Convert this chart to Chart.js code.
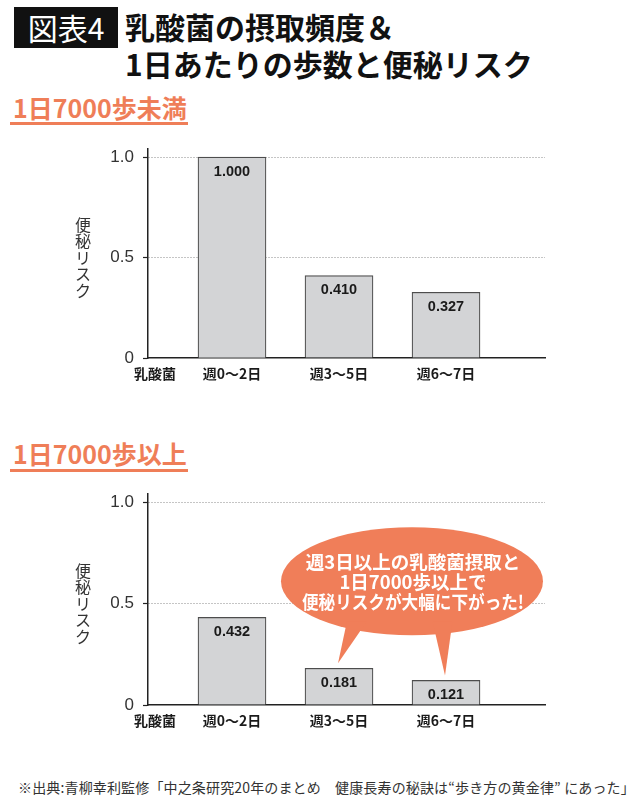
<!DOCTYPE html>
<html><head><meta charset="utf-8">
<script src="https://cdn.jsdelivr.net/npm/chart.js@4.4.0/dist/chart.umd.min.js"></script>
<style>
html,body{margin:0;padding:0;background:#fff;}
body{width:640px;height:798px;position:relative;overflow:hidden;font-family:"Noto Sans CJK JP",sans-serif;color:#1a1a1a;}
.abs{position:absolute;}
#badge{left:14px;top:7px;width:104px;height:41px;background:#111;color:#fff;font-size:30px;line-height:41px;text-align:center;}
#title{left:125px;top:8px;font-size:30px;line-height:37px;font-weight:700;white-space:nowrap;color:#111;}
.sub{left:13px;font-size:25px;line-height:30px;font-weight:700;color:#EF7E58;white-space:nowrap;}
.uline{left:10px;width:178px;height:3px;background:#EF7E58;}
#foot{left:18px;top:778px;font-size:14px;line-height:18px;color:#333;white-space:nowrap;letter-spacing:0.15px;}
canvas{position:absolute;left:0;}
</style></head>
<body>
<div id="badge" class="abs">図表4</div>
<div id="title" class="abs">乳酸菌の摂取頻度＆<br>1日あたりの歩数と便秘リスク</div>
<div class="abs sub" style="top:92px;">1日7000歩未満</div>
<div class="abs uline" style="top:122px;"></div>
<div class="abs sub" style="top:438px;">1日7000歩以上</div>
<div class="abs uline" style="top:469px;"></div>
<canvas id="c1" width="640" height="251" style="top:139px;"></canvas>
<canvas id="c2" width="640" height="253" style="top:484px;"></canvas>
<div id="foot" class="abs">※出典:青柳幸利監修「中之条研究20年のまとめ　健康長寿の秘訣は“歩き方の黄金律” にあった」</div>
<script>
// ---- data ----
const categories = ['週0〜2日', '週3〜5日', '週6〜7日'];
const lactoLabel = '乳酸菌';
const riskUnder7000 = [1.000, 0.410, 0.327];
const riskOver7000 = [0.432, 0.181, 0.121];
const yTickValues = [0, 0.5, 1.0];
const yTickLabels = ['0', '0.5', '1.0'];
const yTitle = '便秘リスク';
const bubbleLines = ['週3日以上の乳酸菌摂取と', '1日7000歩以上で', '便秘リスクが大幅に下がった!'];
const bubbleTargets = [1, 2];

// ---- layout ----
const X_MIN = 0.215, X_MAX = 3.925, LACTO_POS = 0.28, Y_MAX = 1.04;
const BUBBLE_AT = {x: 2.682, y: 0.61};
const TAIL_BASE_DX = [-55, 30.5];
const ORANGE = '#F07E59';

const valueLabels = {
  id: 'valueLabels',
  afterDatasetsDraw(chart) {
    const ctx = chart.ctx, meta = chart.getDatasetMeta(0);
    const vals = chart.data.datasets[0].data;
    ctx.save();
    ctx.font = 'bold 14.5px "Liberation Sans", Arial, sans-serif';
    ctx.fillStyle = '#1a1a1a';
    ctx.textAlign = 'center';
    ctx.textBaseline = 'middle';
    meta.data.forEach((bar, i) => ctx.fillText(vals[i].y.toFixed(3), bar.x, bar.y + 14.5));
    ctx.restore();
  }
};

const yTitlePlugin = {
  id: 'yTitleVertical',
  afterDraw(chart) {
    const {ctx, chartArea, scales: {y}} = chart;
    const chars = Array.from(yTitle);
    const step = 16.5;
    const cy = y.getPixelForValue((yTickValues[0] + yTickValues[yTickValues.length - 1]) / 2);
    const x = chartArea.left - 65;
    ctx.save();
    ctx.font = '16px "Noto Sans CJK JP", sans-serif';
    ctx.fillStyle = '#333';
    ctx.textAlign = 'center';
    ctx.textBaseline = 'middle';
    chars.forEach((ch, i) => ctx.fillText(ch, x, cy + (i - (chars.length - 1) / 2) * step));
    ctx.restore();
  }
};

const bubblePlugin = {
  id: 'bubble',
  afterDatasetsDraw(chart) {
    const {ctx, scales: {x, y}} = chart;
    const meta = chart.getDatasetMeta(0);
    const cx = x.getPixelForValue(BUBBLE_AT.x), cy = y.getPixelForValue(BUBBLE_AT.y);
    const rx = 131, ry = 54;
    ctx.save();
    ctx.fillStyle = ORANGE;
    ctx.beginPath();
    ctx.ellipse(cx, cy, rx, ry, 0, 0, Math.PI * 2);
    ctx.fill();
    bubbleTargets.forEach((bi, k) => {
      const bar = meta.data[bi];
      const bx = cx + TAIL_BASE_DX[k];
      ctx.beginPath();
      ctx.moveTo(bx - 10, cy + ry - 14);
      ctx.lineTo(bx + 10, cy + ry - 14);
      ctx.lineTo(bar.x - 1, bar.y - 5);
      ctx.closePath();
      ctx.fill();
    });
    ctx.fillStyle = '#fff';
    ctx.font = 'bold 18.5px "Noto Sans CJK JP", sans-serif';
    ctx.textAlign = 'center';
    ctx.textBaseline = 'middle';
    bubbleLines.forEach((t, i) => ctx.fillText(t, cx + 1, cy + 1 + (i - 1) * 20, 222));
    ctx.restore();
  }
};

function makeChart(id, values, extra) {
  return new Chart(document.getElementById(id), {
    type: 'bar',
    data: {
      datasets: [{
        data: values.map((v, i) => ({x: i + 1, y: v})),
        backgroundColor: '#d3d4d6',
        borderColor: '#4d4d4d',
        borderWidth: 1.2,
        barThickness: 68
      }]
    },
    options: {
      responsive: false,
      maintainAspectRatio: false,
      animation: false,
      layout: {padding: {top: 10, right: 95, left: 0, bottom: 0}},
      plugins: {legend: {display: false}, tooltip: {enabled: false}},
      scales: {
        x: {
          type: 'linear', min: X_MIN, max: X_MAX, offset: false,
          afterFit(s) { s.height = 32; s.paddingLeft = 0; s.paddingRight = 0; },
          afterBuildTicks(s) {
            s.ticks = [{value: LACTO_POS}].concat(categories.map((c, i) => ({value: i + 1})));
          },
          grid: {display: false, drawTicks: false, offset: false},
          border: {display: true, color: '#222', width: 1.5},
          ticks: {
            autoSkip: false, maxRotation: 0, minRotation: 0, padding: 7, color: '#1a1a1a',
            font: {family: '"Noto Sans CJK JP", sans-serif', size: 14, weight: 'bold'},
            callback(v, i) { return i === 0 ? lactoLabel : categories[i - 1]; }
          }
        },
        y: {
          min: 0, max: Y_MAX,
          afterFit(s) { s.width = 148; s.paddingTop = 0; s.paddingBottom = 0; },
          afterBuildTicks(s) { s.ticks = yTickValues.map(v => ({value: v})); },
          grid: {
            color: c => (c.tick && c.tick.value === 0) ? 'rgba(0,0,0,0)' : '#8a8a8a',
            lineWidth: 1, tickColor: '#222', tickLength: 5, tickWidth: 1.2
          },
          border: {display: true, color: '#222', width: 1.5, dash: [1, 2]},
          ticks: {
            padding: 9, color: '#333',
            font: {family: '"Liberation Sans", Arial, sans-serif', size: 17},
            callback(v, i) { return yTickLabels[i]; }
          }
        }
      }
    },
    plugins: [valueLabels, yTitlePlugin].concat(extra || [])
  });
}

makeChart('c1', riskUnder7000);
makeChart('c2', riskOver7000, [bubblePlugin]);
</script>
</body></html>
